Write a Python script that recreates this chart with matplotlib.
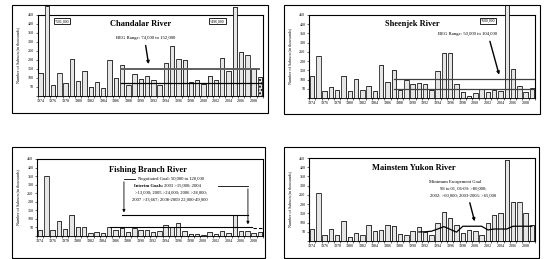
import matplotlib
matplotlib.use('Agg')
import matplotlib.pyplot as plt
from matplotlib.patches import Rectangle
import numpy as np

plt.rcParams['font.family'] = ['Liberation Serif', 'DejaVu Serif']

years = list(range(1974, 2010))
year_labels = [str(y) for y in range(1974, 2010, 2)]

chandalar = [130, 501, 61, 128, 72, 205, 81, 137, 50, 80, 43, 202, 98, 174, 59, 124, 96, 109,
             89, 61, 185, 280, 207, 200, 76, 87, 67, 109, 91, 213, 137, 496, 244, 228, 157, 106]
sheenjek = [117, 228, 36, 59, 45, 120, 36, 102, 43, 66, 36, 180, 85, 153, 45, 97, 77, 83,
            77, 43, 147, 243, 246, 77, 31, 13, 29, 49, 31, 41, 36, 561, 157, 63, 34, 54]
fishing = [35, 353, 37, 88, 39, 121, 55, 55, 16, 25, 16, 53, 33, 49, 23, 45, 35, 37,
           22, 28, 65, 51, 77, 27, 14, 13, 5, 22, 14, 30, 20, 121, 31, 32, 19, 25]
yukon = [65, 260, 31, 64, 35, 107, 20, 44, 33, 87, 56, 60, 87, 80, 36, 34, 53, 78,
         47, 31, 96, 156, 122, 87, 44, 60, 54, 33, 96, 142, 152, 437, 210, 214, 151, 89]

# Mainstem Yukon minimum escapement goal by year
goal_years = list(range(1991, 2010))
goal_yukon = [49, 50, 53, 65, 78, 63, 48, 80, 80, 80, 80, 60, 65, 65, 65, 80, 80, 80, 80]

W, H = 544, 259
fig = plt.figure(figsize=(W / 100, H / 100), dpi=100)


def px_rect(x0, y0, x1, y1):
    return [x0 / W, 1 - y1 / H, (x1 - x0) / W, (y1 - y0) / H]


def frame(x0, y0, x1, y1):
    r = Rectangle((x0 / W, 1 - y1 / H), (x1 - x0) / W, (y1 - y0) / H,
                  transform=fig.transFigure, fill=False, lw=0.8, ec='black')
    fig.add_artist(r)
    return r


def panel(box, fbox, values, title, title_xy):
    fr = frame(*fbox)
    ax = fig.add_axes(px_rect(*box))
    x = np.arange(len(values))
    sh = ax.bar(x + 0.14, values, width=0.7, color='#7a7a7a', lw=0, zorder=2)
    bars = ax.bar(x, values, width=0.7, color='#e6e6e6', ec='black', lw=0.5, zorder=3)
    for b in list(sh) + list(bars):
        b.set_clip_path(fr)
    ax.set_xlim(-0.5, len(values) - 0.5)
    ax.set_ylim(0, 450)
    ax.set_yticks(range(0, 451, 50))
    ax.set_yticklabels([''] + [str(v) for v in range(50, 451, 50)])
    ax.set_xticks(np.arange(-0.5, len(values), 1))
    ax.set_xticklabels([])
    ax.set_xticks(np.arange(0, len(values), 2), minor=True)
    ax.set_xticklabels(year_labels, minor=True)
    ax.tick_params(axis='x', which='major', length=1.5, width=0.4)
    ax.tick_params(axis='x', which='minor', length=0, pad=2, labelsize=3)
    ax.tick_params(axis='y', length=1.5, width=0.4, pad=1, labelsize=3)
    for s in ax.spines.values():
        s.set_linewidth(0.8)
    ax.set_ylabel('Number of Salmon (in thousands)', fontsize=3)
    ax.yaxis.set_label_coords(-0.075, 0.5)
    ax.text(title_xy[0], title_xy[1], title, fontsize=6, fontweight='bold',
            ha='center', va='center')
    return ax, bars


# Chandalar
ax, bars = panel((37.5, 15, 263, 96), (12, 5, 268, 113), chandalar, 'Chandalar River', (15.9, 400))
bars[-1].set_hatch('.....')
ax.plot([12.9, 34.9], [152, 152], color='#606060', lw=1.4, zorder=4)
ax.plot([12.9, 35.2], [74, 74], color='black', lw=0.9, zorder=4)
ax.text(16.7, 322, 'BEG Range: 74,000 to 152,000', fontsize=3.4, ha='center', va='center')
ax.annotate('', xy=(17.3, 162), xytext=(16.7, 296),
            arrowprops=dict(arrowstyle='-|>', lw=1.0, color='black', mutation_scale=4))
for tx, ty, s in [(3.4, 414, '~501,000'), (28.2, 414, '~496,000')]:
    ax.text(tx, ty, s, fontsize=2.8, ha='center', va='center',
            bbox=dict(boxstyle='square,pad=0.25', fc='white', ec='black', lw=0.6))

# Sheenjek
ax, bars = panel((309, 15, 535, 98), (284, 5, 540, 114), sheenjek, 'Sheenjek River', (15.9, 401))
ax.plot([13.1, 35.3], [104, 104], color='#404040', lw=0.9, zorder=4)
ax.plot([13.1, 35.3], [50, 50], color='#404040', lw=0.9, zorder=4)
ax.text(24.7, 347, 'BEG Range: 50,000 to 104,000', fontsize=3.4, ha='center', va='center')
ax.annotate('', xy=(29.9, 112), xytext=(28.2, 322),
            arrowprops=dict(arrowstyle='-|>', lw=1.0, color='black', mutation_scale=4))
ax.text(28.0, 417, '~600,000', fontsize=2.8, ha='center', va='center',
        bbox=dict(boxstyle='square,pad=0.25', fc='white', ec='black', lw=0.6))

# Fishing Branch
ax, bars = panel((37, 159, 263, 236), (12, 147, 265, 258), fishing, 'Fishing Branch River', (17.2, 386))
ax.plot([13.1, 33.1], [120, 120], color='black', lw=0.8, zorder=4)
ax.plot([11.1, 33.7], [50, 50], color='black', lw=0.8, zorder=4)
ax.plot([33.9, 35.5], [49, 49], color='black', lw=0.8, ls=(0, (3, 2)), zorder=4)
ax.text(20.8, 333, 'Negotiated Goal: 50,000 to 120,000', fontsize=3.3, ha='center', va='center')
ax.text(19.6, 292, 'Interim Goals:', fontsize=3.3, fontweight='bold', ha='right', va='center')
ax.text(19.75, 292, '2003 >15,000; 2004', fontsize=3.3, ha='left', va='center')
ax.text(20.8, 251, '>13,000; 2005 >24,000; 2006 >28,000;', fontsize=3.3, ha='center', va='center')
ax.text(20.6, 210, '2007 >33,667; 2008-2009 22,000-49,000', fontsize=3.3, ha='center', va='center')
ax.plot([15.1, 13.35], [333, 333], color='black', lw=0.6)
ax.annotate('', xy=(13.35, 121), xytext=(13.35, 333),
            arrowprops=dict(arrowstyle='-|>', lw=0.6, color='black', mutation_scale=4))
ax.plot([28.4, 33.1], [292, 292], color='black', lw=0.6)
ax.annotate('', xy=(33.1, 52), xytext=(33.1, 292),
            arrowprops=dict(arrowstyle='-|>', lw=0.6, color='black', mutation_scale=4))

# Mainstem Yukon
ax, bars = panel((309, 158, 535, 241), (284, 147, 539, 258), yukon, 'Mainstem Yukon River', (16.2, 396))
gx = [years.index(y) for y in goal_years]
ax.plot(gx, goal_yukon, color='black', lw=0.9, zorder=4)
yk_lines = ['Minimum Escapement Goal', '98 to 01, 06-09: >80,000;',
            '2002: >60,000; 2003-2005: >65,000']
for (tx, ty), s in zip([(22.8, 322), (24.1, 282), (24.1, 244)], yk_lines):
    ax.text(tx, ty, s, fontsize=3.3, ha='center', va='center')
ax.annotate('', xy=(26.0, 92), xytext=(25.0, 222),
            arrowprops=dict(arrowstyle='-|>', lw=1.0, color='black', mutation_scale=4))

fig.savefig('out.png', dpi=100)
